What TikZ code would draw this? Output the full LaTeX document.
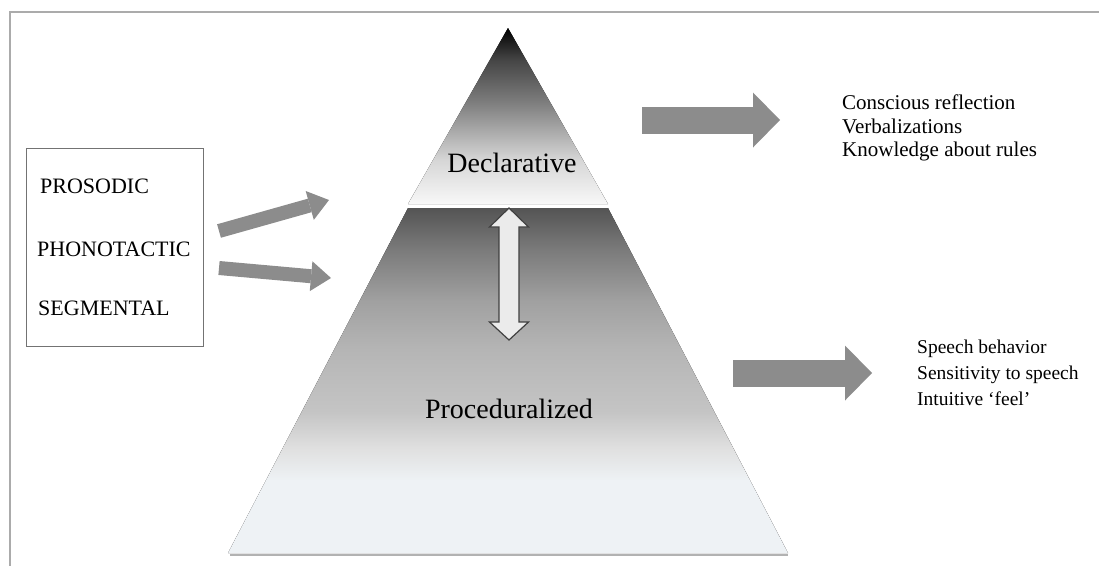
\documentclass[tikz,border=0pt]{standalone}
\usepackage{fontspec}
\setmainfont{Liberation Serif}
\usetikzlibrary{arrows.meta, positioning}

\definecolor{framegray}{HTML}{ABABAB}
\definecolor{arrowgray}{HTML}{8C8C8C}
\definecolor{palebase}{HTML}{EEF2F5}
\pgfdeclareverticalshading{declshade}{100bp}{color(0bp)=(black!3); color(25bp)=(black!3); color(29bp)=(black!7); color(37.5bp)=(black!16); color(46bp)=(black!34); color(54.5bp)=(black!52); color(66bp)=(black!73); color(75bp)=(black); color(100bp)=(black)}
\pgfdeclareverticalshading{procshade}{100bp}{color(0bp)=(palebase); color(35.5bp)=(palebase); color(40bp)=(black!12); color(45.5bp)=(black!23); color(54.5bp)=(black!29); color(61.5bp)=(black!37); color(69bp)=(black!52); color(75bp)=(black!67); color(100bp)=(black!67)}

\begin{document}
\begin{tikzpicture}[x=1pt, y=-1pt,
    lbl/.style={inner sep=0pt, anchor=base west, font=\rmfamily\fontsize{22}{26}\selectfont},
    tier/.style={inner sep=0pt, anchor=base, font=\rmfamily\fontsize{28}{32}\selectfont},
    notes/.style={inner sep=0pt, anchor=north west, align=left},
    blockarrow/.style={arrowgray, line width=14pt, -{Triangle[length=20pt, width=30pt, line width=0pt]}},
    widearrow/.style={arrowgray, line width=27pt, -{Triangle[length=27pt, width=55pt, line width=0pt]}}]
    \useasboundingbox (0,0) rectangle (1099,566);
    \draw[framegray, line width=1.5pt] (1099,12) -- (10,12) -- (10,566);

    \fill[shading=procshade] (408,208) -- (608,208) -- (788,553) -- (228,553) -- cycle;
    \fill[shading=declshade] (508,28) -- (608,204) -- (408,204) -- cycle;
    \draw[black!30, line width=2pt] (230,555) -- (788,555);
    \draw[fill=black!8, draw=black!75, line width=1.2pt] (509,208) -- (528.5,227) -- (519,227) -- (519,322) -- (528.5,322) -- (509,340) -- (489.5,322) -- (499,322) -- (499,227) -- (489.5,227) -- cycle;

    \node[tier] (decl) at (512,172) {Declarative};
    \node[tier] (proc) at (509,418) {Proceduralized};

    \node[draw=black!55, line width=1pt, minimum width=177pt, minimum height=198pt, inner sep=0pt] (levels) at (115,247) {};
    \node[lbl] (pros) at (40,193) {PROSODIC};
    \node[lbl] (phono) at (37,256) {PHONOTACTIC};
    \node[lbl] (seg) at (38,315) {SEGMENTAL};

    \node[notes, font=\rmfamily\fontsize{21}{23.5}\selectfont] (declnotes) at (842,95) {Conscious reflection\\Verbalizations\\Knowledge about rules};
    \node[notes, font=\rmfamily\fontsize{19.5}{26}\selectfont] (procnotes) at (917,340) {Speech behavior\\Sensitivity to speech\\Intuitive ‘feel’};

    \coordinate (declin) at (329,200);
    \coordinate (procin) at (331,278);
    \coordinate (declout) at (642,120);
    \coordinate (procout) at (733,373);

    \draw[blockarrow] ([shift={(15,-16)}]levels.east) -- (declin);
    \draw[blockarrow] ([shift={(15,21)}]levels.east) -- (procin);
    \draw[widearrow] (declout) -- ++(138,0);
    \draw[widearrow] (procout) -- ++(139,0);
\end{tikzpicture}
\end{document}
